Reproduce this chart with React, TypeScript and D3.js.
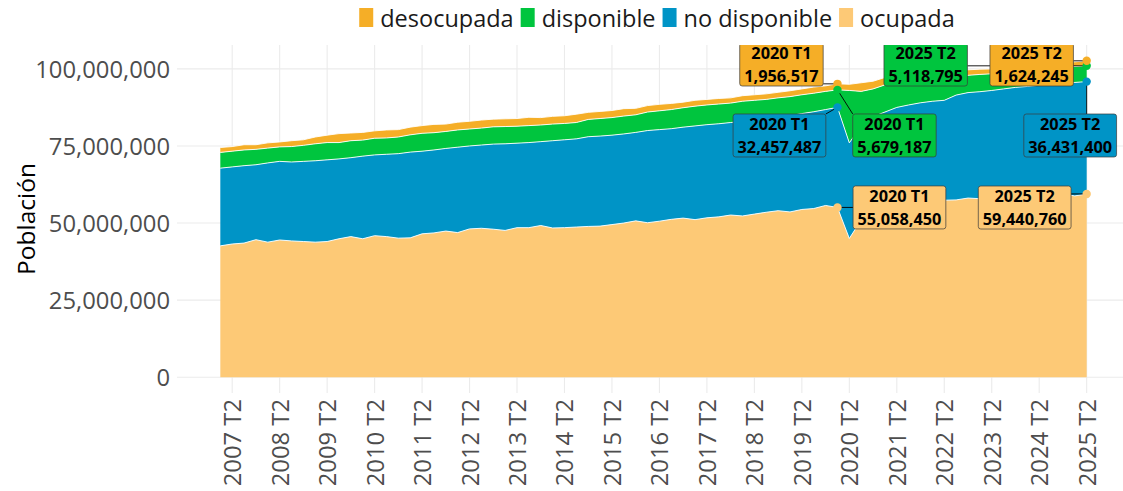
import React, { useEffect, useRef } from "react";
import * as d3 from "d3";

// ---------- data (millions of people) ----------
const quarters: string[] = [];
for (let y = 2007; y <= 2025; y++) {
  for (let q = 1; q <= 4; q++) {
    if (y < 2025 || q <= 2) quarters.push(`${y} T${q}`);
  }
}

const ocupada = [
  42.6, 43.2, 43.5, 44.6, 43.8, 44.5, 44.2, 44.0, 43.8, 44.0,
  44.9, 45.6, 44.9, 45.9, 45.6, 45.1, 45.2, 46.5, 46.8, 47.4,
  46.9, 48.1, 48.3, 48.0, 47.6, 48.5, 48.5, 49.2, 48.4, 48.5,
  48.7, 48.9, 49.0, 49.5, 50.0, 50.7, 50.1, 50.6, 51.2, 51.6,
  51.1, 51.7, 52.0, 52.6, 52.3, 52.9, 53.5, 54.0, 53.6, 54.4,
  54.7, 55.7, 55.05845, 45.0, 51.0, 53.3, 53.0, 55.2, 56.0, 57.0,
  56.1, 57.4, 57.5, 58.1, 57.9, 58.6, 58.4, 59.1, 58.6, 59.4,
  59.2, 59.4, 58.8, 59.44076,
];

const noDisponible = [
  25.2, 25.0, 25.1, 24.3, 25.7, 25.5, 25.6, 26.0, 26.4, 26.5,
  25.9, 25.6, 26.8, 26.2, 26.7, 27.4, 27.8, 26.8, 26.9, 26.8,
  27.7, 26.9, 27.0, 27.6, 28.1, 27.4, 27.6, 27.2, 28.3, 28.5,
  28.6, 29.1, 29.2, 29.0, 28.9, 28.7, 29.9, 29.7, 29.4, 29.5,
  30.4, 30.2, 30.2, 30.0, 30.7, 30.4, 30.3, 30.4, 31.2, 31.1,
  31.4, 31.1, 32.457487, 31.0, 30.5, 31.2, 33.0, 32.3, 32.3, 32.0,
  33.4, 32.4, 34.0, 34.2, 34.7, 34.4, 35.1, 34.9, 35.7, 35.3,
  35.8, 36.0, 36.8, 36.4314,
];

const disponible = [
  5.1, 5.1, 5.1, 5.0, 4.8, 4.7, 5.0, 5.2, 5.5, 5.6,
  5.3, 5.5, 5.2, 5.4, 5.3, 5.4, 5.6, 5.8, 5.6, 5.5,
  5.6, 5.5, 5.5, 5.6, 5.6, 5.5, 5.5, 5.4, 5.4, 5.3,
  5.3, 5.6, 5.7, 5.7, 5.8, 5.7, 6.0, 6.1, 6.2, 6.3,
  6.4, 6.4, 6.4, 6.3, 6.5, 6.5, 6.3, 6.2, 6.2, 6.1,
  6.0, 5.9, 5.679187, 17.0, 11.2, 9.0, 8.8, 7.5, 7.0, 6.5,
  6.5, 6.1, 5.9, 5.6, 5.6, 5.4, 5.4, 5.2, 5.3, 5.2,
  5.1, 5.0, 5.2, 5.118795,
];

const desocupada = [
  1.6, 1.5, 1.7, 1.5, 1.7, 1.6, 1.9, 1.8, 2.2, 2.4,
  2.9, 2.5, 2.5, 2.4, 2.6, 2.4, 2.5, 2.5, 2.7, 2.4,
  2.5, 2.5, 2.6, 2.5, 2.5, 2.5, 2.7, 2.4, 2.5, 2.5,
  2.7, 2.3, 2.3, 2.3, 2.4, 2.1, 2.1, 2.1, 2.0, 1.8,
  1.9, 1.8, 1.8, 1.7, 1.8, 1.8, 1.8, 1.8, 1.9, 1.9,
  2.0, 1.8, 1.956517, 2.0, 2.8, 2.5, 2.4, 2.4, 2.4, 2.1,
  2.0, 1.9, 2.0, 1.8, 1.7, 1.6, 1.8, 1.7, 1.6, 1.6,
  1.7, 1.5, 1.5, 1.624245,
];

const stackKeys = ["ocupada", "no disponible", "disponible", "desocupada"];
const legendKeys = ["desocupada", "disponible", "no disponible", "ocupada"];
const seriesValues: Record<string, number[]> = {
  ocupada,
  "no disponible": noDisponible,
  disponible,
  desocupada,
};
const colors: Record<string, string> = {
  desocupada: "#F5AE27",
  disponible: "#00C53E",
  "no disponible": "#0094C6",
  ocupada: "#FDC976",
};

const yTicks = [0, 25e6, 50e6, 75e6, 100e6];
const xTickLabels = quarters.filter((q) => q.endsWith("T2"));

// label annotations: series, quarter, offset of the label box from its point
const annotations = [
  { key: "desocupada", quarter: "2020 T1", dx: -56, dy: -19.3 },
  { key: "no disponible", quarter: "2020 T1", dx: -58, dy: 28.1 },
  { key: "disponible", quarter: "2020 T1", dx: 57, dy: 45.6 },
  { key: "ocupada", quarter: "2020 T1", dx: 62, dy: 0 },
  { key: "disponible", quarter: "2025 T2", dx: -161, dy: -1.3 },
  { key: "desocupada", quarter: "2025 T2", dx: -55, dy: 3.7 },
  { key: "no disponible", quarter: "2025 T2", dx: -16.5, dy: 53.9 },
  { key: "ocupada", quarter: "2025 T2", dx: -62, dy: 13.6 },
];

const W = 1123;
const H = 491;
const FONT = "'Open Sans', 'Noto Sans', sans-serif";

export default function App() {
  const ref = useRef<SVGSVGElement | null>(null);

  useEffect(() => {
    const svg = d3.select(ref.current);
    svg.selectAll("*").remove();

    const panel = { left: 177, right: 1130, top: 45, bottom: 393 };

    const rows = quarters.map((q, i) => {
      const r: any = { i, q };
      stackKeys.forEach((k) => (r[k] = seriesValues[k][i] * 1e6));
      return r;
    });
    const stacked = d3.stack<any>().keys(stackKeys)(rows);

    const n = quarters.length - 1;
    const xExp = n * 0.05;
    const x = d3.scaleLinear().domain([-xExp, n + xExp]).range([panel.left, panel.right]);
    const yMax = d3.max(stacked[stacked.length - 1], (d) => d[1]) as number;
    const y = d3
      .scaleLinear()
      .domain([-yMax * 0.05, yMax * 1.05])
      .range([panel.bottom, panel.top]);

    const defs = svg.append("defs");
    defs
      .append("clipPath")
      .attr("id", "panelClip")
      .append("rect")
      .attr("x", panel.left)
      .attr("y", panel.top)
      .attr("width", panel.right - panel.left)
      .attr("height", panel.bottom - panel.top);

    // grid
    const grid = svg.append("g");
    yTicks.forEach((t) => {
      grid
        .append("line")
        .attr("x1", panel.left)
        .attr("x2", panel.right)
        .attr("y1", y(t))
        .attr("y2", y(t))
        .attr("stroke", "#EBEBEB")
        .attr("stroke-width", 1.1);
    });
    xTickLabels.forEach((lab) => {
      const xi = x(quarters.indexOf(lab));
      grid
        .append("line")
        .attr("x1", xi)
        .attr("x2", xi)
        .attr("y1", panel.top)
        .attr("y2", panel.bottom)
        .attr("stroke", "#EBEBEB")
        .attr("stroke-width", 1.1);
    });

    // areas
    const area = d3
      .area<any>()
      .x((d) => x(d.data.i))
      .y0((d) => y(d[0]))
      .y1((d) => y(d[1]));
    const line = d3
      .line<any>()
      .x((d) => x(d.data.i))
      .y((d) => y(d[1]));
    const plot = svg.append("g").attr("clip-path", "url(#panelClip)");
    stacked.forEach((s) => {
      plot.append("path").attr("d", area(s)).attr("fill", colors[s.key]);
    });
    stacked.forEach((s) => {
      plot
        .append("path")
        .attr("d", line(s))
        .attr("fill", "none")
        .attr("stroke", "white")
        .attr("stroke-width", 0.9);
    });

    // annotations
    const fmt = d3.format(",.0f");
    const annG = svg.append("g").attr("clip-path", "url(#panelClip)");
    const segG = annG.append("g");
    const ptG = annG.append("g");
    const boxG = annG.append("g");
    annotations.forEach((a) => {
      const i = quarters.indexOf(a.quarter);
      const s = stacked.find((st) => st.key === a.key)!;
      const px = x(i);
      const py = y(s[i][1]);
      const cx = px + a.dx;
      const cy = py + a.dy;
      const g = boxG.append("g");
      const rect = g.append("rect");
      const t1 = g
        .append("text")
        .attr("x", cx)
        .attr("y", cy - 11.7)
        .attr("text-anchor", "middle")
        .attr("dominant-baseline", "central")
        .attr("font-family", FONT)
        .attr("font-weight", 700)
        .attr("font-size", 16.3)
        .attr("fill", "#000")
        .text(a.quarter);
      const t2 = g
        .append("text")
        .attr("x", cx)
        .attr("y", cy + 11.7)
        .attr("text-anchor", "middle")
        .attr("dominant-baseline", "central")
        .attr("font-family", FONT)
        .attr("font-weight", 700)
        .attr("font-size", 16.3)
        .attr("fill", "#000")
        .text(fmt(seriesValues[a.key][i] * 1e6));
      const tw = Math.max(
        (t1.node() as SVGTextElement).getComputedTextLength(),
        (t2.node() as SVGTextElement).getComputedTextLength()
      );
      const bw = tw + 9;
      const bh = 43;
      const bx0 = cx - bw / 2;
      const by0 = cy - bh / 2;
      rect
        .attr("x", bx0)
        .attr("y", by0)
        .attr("width", bw)
        .attr("height", bh)
        .attr("rx", 2.5)
        .attr("fill", colors[a.key])
        .attr("stroke", "#3a3a3a")
        .attr("stroke-width", 0.7);
      // segment from point to nearest box edge
      const ex = Math.max(bx0, Math.min(px, bx0 + bw));
      const ey = Math.max(by0, Math.min(py, by0 + bh));
      segG
        .append("line")
        .attr("x1", px)
        .attr("y1", py)
        .attr("x2", ex)
        .attr("y2", ey)
        .attr("stroke", "#000")
        .attr("stroke-width", 0.9);
      ptG
        .append("circle")
        .attr("cx", px)
        .attr("cy", py)
        .attr("r", 4.2)
        .attr("fill", colors[a.key]);
    });

    // y axis labels
    const fmtAxis = d3.format(",");
    yTicks.forEach((t) => {
      svg
        .append("text")
        .attr("x", panel.left - 7)
        .attr("y", y(t))
        .attr("text-anchor", "end")
        .attr("dominant-baseline", "central")
        .attr("font-family", FONT)
        .attr("font-size", 23.8)
        .attr("fill", "#4D4D4D")
        .text(fmtAxis(t));
    });
    // x axis labels
    xTickLabels.forEach((lab) => {
      const xi = x(quarters.indexOf(lab));
      svg
        .append("text")
        .attr("transform", `translate(${xi},${panel.bottom + 6}) rotate(-90)`)
        .attr("text-anchor", "end")
        .attr("dominant-baseline", "central")
        .attr("font-family", FONT)
        .attr("font-size", 23.8)
        .attr("fill", "#4D4D4D")
        .text(lab);
    });
    // y title
    svg
      .append("text")
      .attr("transform", `translate(25,${(panel.top + panel.bottom) / 2}) rotate(-90)`)
      .attr("text-anchor", "middle")
      .attr("dominant-baseline", "central")
      .attr("font-family", FONT)
      .attr("font-size", 24.5)
      .attr("fill", "#000")
      .text("Población");

    // legend
    const lg = svg.append("g");
    let cursor = 0;
    const keyW = 14;
    const keyH = 19;
    const gapKey = 7;
    const gapItem = 7;
    legendKeys.forEach((k, idx) => {
      lg.append("rect")
        .attr("x", cursor)
        .attr("y", 8)
        .attr("width", keyW)
        .attr("height", keyH)
        .attr("fill", colors[k]);
      const t = lg
        .append("text")
        .attr("x", cursor + keyW + gapKey)
        .attr("y", 17.5)
        .attr("dominant-baseline", "central")
        .attr("font-family", FONT)
        .attr("font-size", 23.5)
        .attr("fill", "#1A1A1A")
        .text(k);
      const w = (t.node() as SVGTextElement).getComputedTextLength();
      cursor += keyW + gapKey + w + (idx < legendKeys.length - 1 ? gapItem : 0);
    });
    lg.attr("transform", `translate(${657 - cursor / 2},0)`);
  }, []);

  return (
    <svg
      ref={ref}
      width={W}
      height={H}
      style={{ position: "absolute", left: 0, top: 0, background: "#fff" }}
    />
  );
}
